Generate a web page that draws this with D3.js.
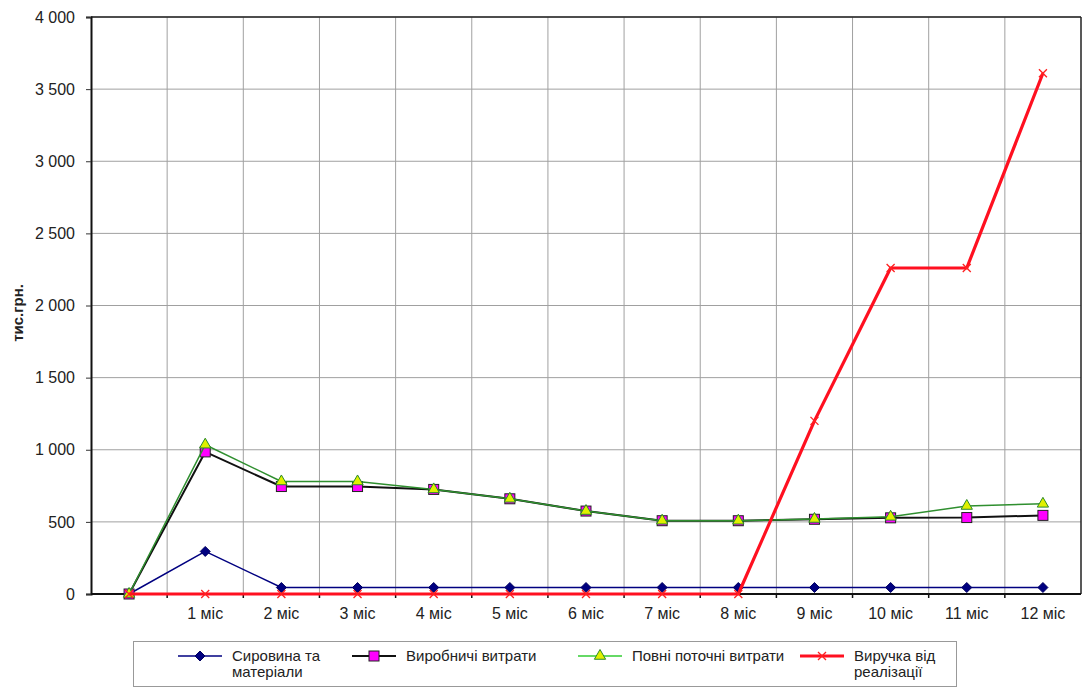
<!DOCTYPE html>
<html>
<head>
<meta charset="utf-8">
<script src="https://cdn.jsdelivr.net/npm/d3@7"></script>
<style>
  html, body { margin: 0; padding: 0; background: #fff; }
  svg { display: block; font-family: "Liberation Sans", Arial, sans-serif; }
</style>
</head>
<body>
<svg id="chart" width="1084" height="688"></svg>
<script>
const categories = ["", "1 міс", "2 міс", "3 міс", "4 міс", "5 міс", "6 міс", "7 міс", "8 міс", "9 міс", "10 міс", "11 міс", "12 міс"];
const rawMaterials = [0, 295, 45, 45, 45, 45, 45, 45, 45, 45, 45, 45, 45];
const productionCosts = [0, 985, 745, 745, 725, 660, 575, 508, 508, 518, 528, 530, 545];
const totalCosts = [0, 1035, 780, 780, 725, 660, 575, 508, 508, 520, 535, 610, 625];
const revenue = [0, 0, 0, 0, 0, 0, 0, 0, 0, 1200, 2260, 2260, 3610];
const yTicks = [0, 500, 1000, 1500, 2000, 2500, 3000, 3500, 4000];
const seriesNames = ["Сировина та матеріали", "Виробничі витрати", "Повні поточні витрати", "Виручка від реалізації"];

const svg = d3.select("#chart");
const pLeft = 91, pRight = 1081, pTop = 17, pBottom = 594;

const x = d3.scaleBand().domain(d3.range(categories.length)).range([pLeft, pRight]).padding(0);
const y = d3.scaleLinear().domain([0, 4000]).range([pBottom, pTop]);
const cx = i => x(i) + x.bandwidth() / 2;

const loc = d3.formatLocale({ decimal: ",", thousands: " ", grouping: [3], currency: ["", ""] });
const fmt = loc.format(",d");

// gridlines
const grid = svg.append("g");
grid.selectAll("line.h").data(yTicks.slice(1)).join("line")
  .attr("x1", pLeft).attr("x2", pRight)
  .attr("y1", d => y(d)).attr("y2", d => y(d))
  .attr("stroke", "#a0a0a0").attr("stroke-width", 1);
grid.selectAll("line.v").data(d3.range(1, categories.length)).join("line")
  .attr("x1", d => x(d)).attr("x2", d => x(d))
  .attr("y1", pTop).attr("y2", pBottom)
  .attr("stroke", "#a0a0a0").attr("stroke-width", 1);

// frame top/right
svg.append("line").attr("x1", pLeft).attr("x2", pRight).attr("y1", pTop).attr("y2", pTop).attr("stroke", "#222").attr("stroke-width", 1.5);
svg.append("line").attr("x1", pRight).attr("x2", pRight).attr("y1", pTop).attr("y2", pBottom).attr("stroke", "#222").attr("stroke-width", 1.5);

// y axis
const yAxis = svg.append("g").attr("transform", `translate(${pLeft},0)`)
  .call(d3.axisLeft(y).tickValues(yTicks).tickFormat(fmt).tickSize(5).tickPadding(11));
yAxis.select(".domain").attr("stroke", "#111").attr("stroke-width", 2);
yAxis.selectAll(".tick line").attr("stroke", "#333");
yAxis.selectAll("text").attr("font-size", 16).attr("fill", "#222");

// x axis
const xAxisG = svg.append("g").attr("transform", `translate(0,${pBottom})`);
xAxisG.append("line").attr("x1", pLeft).attr("x2", pRight).attr("stroke", "#111").attr("stroke-width", 2);
xAxisG.selectAll("line.t").data(d3.range(1, categories.length)).join("line")
  .attr("x1", d => x(d)).attr("x2", d => x(d)).attr("y1", 0).attr("y2", 4)
  .attr("stroke", "#111").attr("stroke-width", 1.5);
xAxisG.selectAll("text").data(categories).join("text")
  .attr("x", (d, i) => cx(i)).attr("y", 14)
  .attr("dy", "0.71em")
  .attr("text-anchor", "middle").attr("font-size", 16).attr("fill", "#222")
  .text(d => d);

// y label
svg.append("text").attr("transform", "translate(23,313) rotate(-90)")
  .attr("text-anchor", "middle").attr("font-size", 15).attr("font-weight", "bold").attr("fill", "#222")
  .text("тис.грн.");

const line = d3.line().x((d, i) => cx(i)).y(d => y(d));

// marker helpers
function diamond(g, px, py) {
  g.append("path").attr("d", "M0,-5L5,0L0,5L-5,0Z").attr("transform", `translate(${px},${py})`)
    .attr("fill", "#000080").attr("stroke", "#000060").attr("stroke-width", 1);
}
function square(g, px, py) {
  g.append("rect").attr("x", px - 5).attr("y", py - 5).attr("width", 10).attr("height", 10)
    .attr("fill", "#ff00ff").attr("stroke", "#222").attr("stroke-width", 1);
}
function triangle(g, px, py) {
  g.append("path").attr("d", d3.symbol(d3.symbolTriangle, 55)()).attr("transform", `translate(${px},${py})`)
    .attr("fill", "#e0f000").attr("stroke", "#2a8a2a").attr("stroke-width", 1);
}
function cross(g, px, py) {
  g.append("path").attr("d", "M-4,-4L4,4M-4,4L4,-4").attr("transform", `translate(${px},${py})`)
    .attr("fill", "none").attr("stroke", "#ff2020").attr("stroke-width", 1.3);
}

const series = [
  { data: rawMaterials, color: "#000080", width: 1.5, marker: diamond },
  { data: productionCosts, color: "#111", width: 2, marker: square },
  { data: totalCosts, color: "#2f8f2f", width: 1.5, marker: triangle },
  { data: revenue, color: "#ff1020", width: 3.2, marker: cross }
];

series.forEach(s => {
  const g = svg.append("g");
  g.append("path").datum(s.data).attr("d", line).attr("fill", "none")
    .attr("stroke", s.color).attr("stroke-width", s.width).attr("stroke-linejoin", "round");
  s.data.forEach((v, i) => s.marker(g, cx(i), y(v)));
});

// legend
const lg = svg.append("g");
lg.append("rect").attr("x", 133.5).attr("y", 641.5).attr("width", 823).attr("height", 45)
  .attr("fill", "#fff").attr("stroke", "#999").attr("stroke-width", 1);
const legendItems = [
  { x: 178, lines: ["Сировина та", "матеріали"], s: series[0] },
  { x: 352, lines: ["Виробничі витрати"], s: series[1] },
  { x: 578, lines: ["Повні поточні витрати"], s: series[2] },
  { x: 800, lines: ["Виручка від", "реалізації"], s: series[3] }
];
legendItems.forEach(it => {
  const ly = 656;
  lg.append("line").attr("x1", it.x).attr("x2", it.x + 44).attr("y1", ly).attr("y2", ly)
    .attr("stroke", it.s === series[2] ? "#33cc33" : it.s.color).attr("stroke-width", it.s.width);
  it.s.marker(lg, it.x + 22, ly);
  it.lines.forEach((t, k) => {
    lg.append("text").attr("x", it.x + 54).attr("y", ly + 5 + k * 16)
      .attr("font-size", 15).attr("fill", "#222").text(t);
  });
});
</script>
</body>
</html>
